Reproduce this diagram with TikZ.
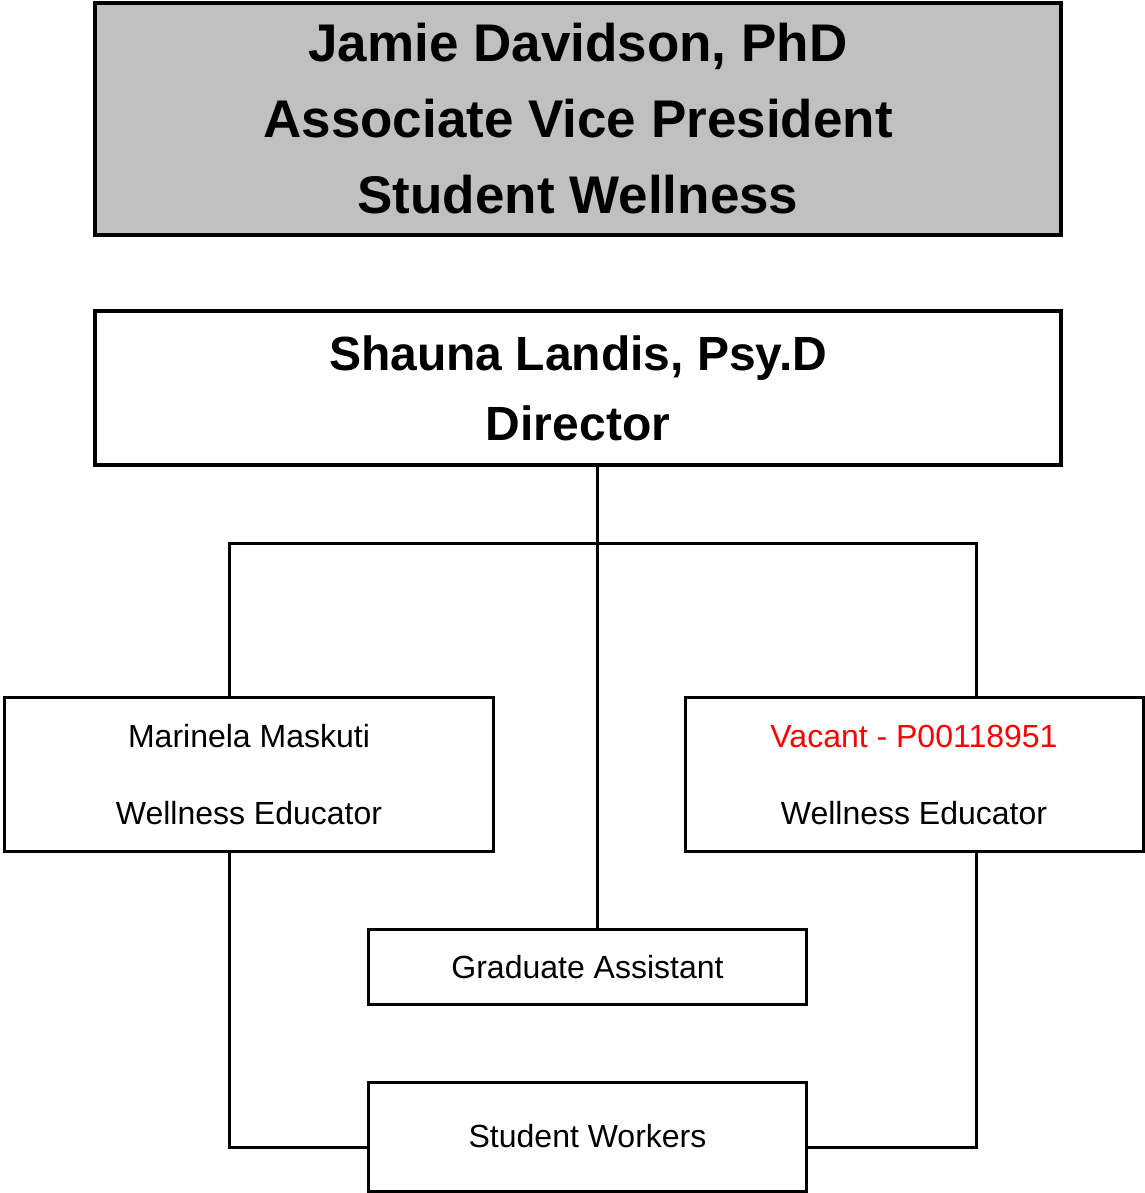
\documentclass[tikz,border=0pt]{standalone}
\usepackage{fontspec}
\setmainfont{Liberation Sans}
\definecolor{boxgray}{HTML}{C0C0C0}
\definecolor{vacred}{HTML}{FF0000}
\begin{document}
\begin{tikzpicture}[x=1bp,y=-1bp,
  topbox/.style={draw=black, line width=4bp, inner sep=0pt, align=center},
  lowbox/.style={draw=black, line width=3bp, inner sep=0pt, align=center, fill=white},
  conn/.style={draw=black, line width=3bp}]
\useasboundingbox (0,0) rectangle (1145,1193);
\node[topbox, fill=boxgray, minimum width=966bp, minimum height=232bp,
  font=\fontsize{53bp}{76bp}\selectfont\bfseries] (avp) at (578,119)
  {Jamie Davidson, PhD\\Associate Vice President\\Student Wellness};
\node[topbox, fill=white, minimum width=966bp, minimum height=154bp,
  font=\fontsize{48bp}{70bp}\selectfont\bfseries] (dir) at (578,388)
  {Shauna Landis, Psy.D\\Director};
\node[lowbox, minimum width=489bp, minimum height=154bp,
  font=\fontsize{32bp}{77bp}\selectfont] (le) at (249,774.5)
  {Marinela Maskuti\\Wellness Educator};
\node[lowbox, minimum width=458bp, minimum height=154bp,
  font=\fontsize{32bp}{77bp}\selectfont] (re) at (914,774.5)
  {\textcolor{vacred}{Vacant - P00118951}\\Wellness Educator};
\node[lowbox, minimum width=438bp, minimum height=75bp,
  font=\fontsize{32bp}{38bp}\selectfont] (ga) at (587.5,967)
  {Graduate Assistant};
\node[lowbox, minimum width=438bp, minimum height=109bp,
  font=\fontsize{32bp}{38bp}\selectfont] (sw) at (587.5,1136.5)
  {Student Workers};
\coordinate (trunk) at (597,543);
\coordinate (bl) at (229,543);
\coordinate (br) at (976,543);
\coordinate (jl) at (229,1147);
\coordinate (jr) at (976,1147);
\draw[conn] (trunk |- dir.south) -- (trunk |- ga.north);
\draw[conn] (bl |- le.north) -- (bl) -- (br) -- (br |- re.north);
\draw[conn] (bl |- le.south) -- (jl) -- (jl -| sw.west);
\draw[conn] (br |- re.south) -- (jr) -- (jr -| sw.east);
\end{tikzpicture}
\end{document}
